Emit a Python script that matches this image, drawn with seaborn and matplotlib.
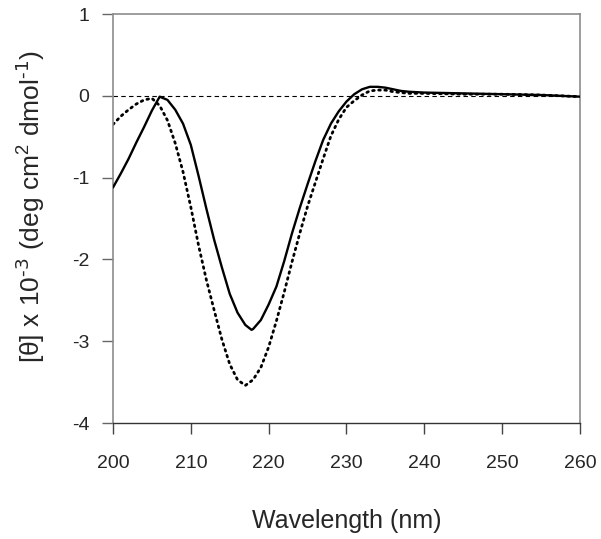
import pandas as pd
import matplotlib
matplotlib.use('Agg')
import matplotlib.pyplot as plt
import seaborn as sns

# --- data ---
wl_solid = [200, 201, 202, 203, 204, 205, 206, 207, 208, 209, 210, 211, 212, 213,
            214, 215, 216, 217, 217.8, 218, 219, 220, 221, 222, 223, 224, 225, 226,
            227, 228, 229, 230, 231, 232, 233, 234, 235, 236, 237, 238, 240, 245,
            250, 255, 260]
theta_solid = [-1.12, -0.95, -0.77, -0.57, -0.38, -0.18, -0.01, -0.05, -0.17, -0.34,
               -0.60, -0.98, -1.38, -1.76, -2.10, -2.42, -2.65, -2.80, -2.86, -2.85,
               -2.74, -2.55, -2.33, -2.02, -1.68, -1.37, -1.08, -0.80, -0.54, -0.34,
               -0.19, -0.07, 0.02, 0.08, 0.11, 0.11, 0.10, 0.08, 0.06, 0.05, 0.04,
               0.03, 0.02, 0.01, -0.01]

wl_dotted = [200, 201, 202, 203, 204, 205, 206, 207, 208, 209, 210, 211, 212, 213,
             214, 215, 216, 217, 218, 219, 220, 221, 222, 223, 224, 225, 226, 227,
             228, 229, 230, 231, 232, 233, 234, 235, 236, 238, 240, 245, 250, 255, 260]
theta_dotted = [-0.35, -0.25, -0.17, -0.10, -0.05, -0.03, -0.12, -0.30, -0.58, -0.93,
                -1.36, -1.83, -2.25, -2.62, -2.98, -3.28, -3.47, -3.54, -3.47, -3.32,
                -3.07, -2.75, -2.40, -2.03, -1.68, -1.35, -1.06, -0.77, -0.49, -0.29,
                -0.14, -0.06, 0.01, 0.06, 0.07, 0.07, 0.05, 0.03, 0.03, 0.02, 0.02,
                0.01, -0.01]

x_ticks = [200, 210, 220, 230, 240, 250, 260]
y_ticks = [-4, -3, -2, -1, 0, 1]

df_solid = pd.DataFrame({'wl': wl_solid, 'theta': theta_solid})
df_dotted = pd.DataFrame({'wl': wl_dotted, 'theta': theta_dotted})

sns.set_style("white")
plt.rcParams['font.family'] = ['Liberation Sans', 'DejaVu Sans']
plt.rcParams['mathtext.default'] = 'regular'
plt.rcParams['axes.unicode_minus'] = False

fig = plt.figure(figsize=(6.01, 5.39), dpi=100)
ax = fig.add_axes([0.188, 0.215, 0.777, 0.759])

ax.axhline(0, color='black', lw=0.8, ls=(0, (4, 3)), zorder=1)

sns.lineplot(data=df_dotted, x='wl', y='theta', ax=ax, color='black', lw=2.0,
             linestyle=(0, (0.6, 1.6)), dash_capstyle='round', sort=False, zorder=2)
sns.lineplot(data=df_solid, x='wl', y='theta', ax=ax, color='black', lw=1.7,
             sort=False, zorder=3)

ax.set_xlim(200, 260)
ax.set_ylim(-4, 1)
ax.set_xticks(x_ticks)
ax.set_yticks(y_ticks)
ax.tick_params(axis='x', direction='out', length=8, width=1, color='#444444',
               labelsize=14, pad=15, bottom=True)
ax.tick_params(axis='y', direction='out', length=8, width=1, color='#666666',
               labelsize=14, pad=9, left=True)

for side in ['left', 'top', 'right']:
    ax.spines[side].set_color('#8c8c8c')
    ax.spines[side].set_linewidth(1.2)
ax.spines['bottom'].set_color('#333333')
ax.spines['bottom'].set_linewidth(1.0)

ax.set_xlabel('Wavelength (nm)', fontsize=18)
ax.xaxis.set_label_coords(0.5, -0.21)
ax.set_ylabel(r'[$\theta$] x 10$^{\text{-3}}$ (deg cm$^{2}$ dmol$^{\text{-1}}$)', fontsize=19)
ax.yaxis.set_label_coords(-0.141, 0.53)

plt.savefig('out.png', dpi=100)
